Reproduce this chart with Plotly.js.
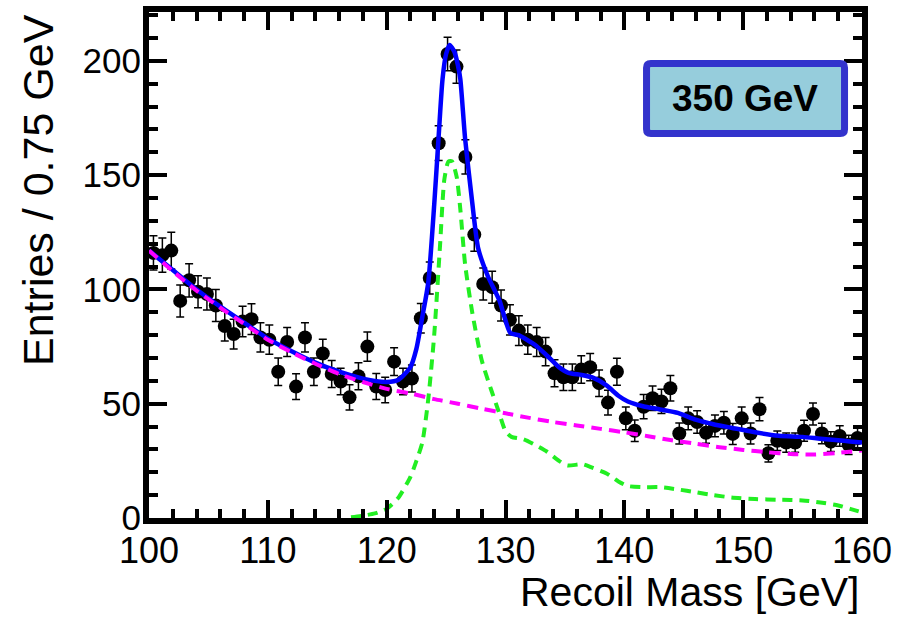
<!DOCTYPE html>
<html>
<head>
<meta charset="utf-8">
<script src="https://cdn.plot.ly/plotly-3.0.1.min.js"></script>
<style>html,body{margin:0;padding:0;background:#fff;}#chart{width:898px;height:617px;}</style>
</head>
<body>
<div id="chart"></div>
<script>
// Data points: bin centres (0.75 GeV bins), entries and errors
const binCenters = [100.375,101.125,101.875,102.625,103.375,104.125,104.875,105.625,106.375,107.125,
  107.875,108.625,109.375,110.125,110.875,111.625,112.375,113.125,113.875,114.625,
  115.375,116.125,116.875,117.625,118.375,119.125,119.875,120.625,121.375,122.125,
  122.875,123.625,124.375,125.125,125.875,126.625,127.375,128.125,128.875,129.625,
  130.375,131.125,131.875,132.625,133.375,134.125,134.875,135.625,136.375,137.125,
  137.875,138.625,139.375,140.125,140.875,141.625,142.375,143.125,143.875,144.625,
  145.375,146.125,146.875,147.625,148.375,149.125,149.875,150.625,151.375,152.125,
  152.875,153.625,154.375,155.125,155.875,156.625,157.375,158.125,158.875,159.625];
const entries = [116,115,117,95,104,99,98,93,84,80.5,
  86,87,79,78,64,77,57.5,79,64,72,
  63,59.7,52.8,62,75,57.5,56,68.4,59.7,61,
  87.4,105,164,203,197.5,158,124,102.4,101,93,
  86.7,82,78,77,72.8,63.3,61.6,61.6,65,66,
  59,50.5,64,43.6,38.2,48.7,52.4,51,56.8,37,
  43.6,42,37.3,40.3,41.7,36.8,43.6,37,47.6,28.3,
  33.8,33,33,38.2,45.5,37,33.4,35.9,32,35];
const errors = [7.5,7.5,8,7,7.3,7,7,7,6.6,6.5,
  6.7,6.7,6.4,6.4,6,6.3,5.6,6.4,6,6.2,
  5.9,5.8,5.5,5.9,6.4,5.7,5.6,6.1,5.8,5.9,
  6.5,7,7.6,7.3,7.3,7.5,7.3,7,7,6.8,
  6.6,6.5,6.4,6.3,6.2,5.9,5.8,5.8,6,6,
  5.8,5.4,5.9,5,4.7,5.3,5.4,5.3,5.6,4.6,
  5,4.9,4.6,4.8,4.9,4.6,5,4.6,5.1,3.8,
  4.3,4.2,4.2,4.6,4.8,4.5,4.3,4.5,4.2,4.4];

// Total fit (blue)
const totalX = [100,102,104,106,108,110,112,114,116,118,119,120,121,122,122.5,123,123.5,124,124.35,124.7,
  125,125.3,125.7,126,126.2,126.6,127.2,127.7,128.5,129.5,130.4,131.1,132.5,133.5,134.5,135.3,136.4,137.3,
  138.5,139.5,140.3,141.5,143,144.5,146,147.5,149,151,153,155,156.5,158,159,160];
const totalY = [117,108.5,100,92.5,85.5,78.5,73,68,64,61,60,59.5,60.5,66,74,88,103,137,165,192,
  203,207,204,198,192,166,138,118,106,95,81,80,75.7,71,66,63.5,62.6,61.5,
  58,53.5,51,49,47.5,46,43,41,39.5,37.5,36,35.5,34.7,34,33.5,33];

// Signal (green dashed)
const signalX = [117,118,119,120,121,122,122.5,123,123.5,124,124.5,124.85,125.2,125.5,125.9,126.2,126.6,127.2,
  128,128.8,129.4,130,130.5,131.5,132.5,133.5,134.5,135.2,136.5,137.3,138.5,139.5,140.3,141.5,143,144.5,
  146,147.5,149,151,153,155,156.5,158,159,160];
const signalY = [0.3,1,2,4,9,18,25,33,52,80,120,148,156,156,149,135,111,90,
  69,56,47,38,35.5,34.5,32,29,25,23,23.5,22,19.5,16,14,13.5,13.5,12.5,
  11.3,10,9,8.3,8,7.7,6.8,5.5,4,2.5];

// Background (magenta dashed)
const bkgX = [100,102,104,106,108,110,112,114,116,118,120,122,124,126,128,130,132,134,136,138,140,142,144,146,148,150,152,154,156,158,160];
const bkgY = [117,108,99.5,92,85,78,72.5,67.5,63,59.5,56.5,54.5,52,50,47.8,45.8,43.8,42,40.5,39,37.5,35.8,34,32.5,31,29.8,28.8,28,27.8,28.5,29.5];

const xTickVals = [100,110,120,130,140,150,160];
const yTickVals = [0,50,100,150,200];
const energyLabel = "350 GeV";
const xTitle = "Recoil Mass [GeV]";
const yTitle = "Entries / 0.75 GeV";

const FONT = "Liberation Sans, Arial, Helvetica, sans-serif";

const traces = [
  {x: binCenters, y: entries, type: 'scatter', mode: 'markers',
   marker: {color: 'black', size: 14},
   error_y: {type: 'data', array: errors, visible: true, color: 'black', thickness: 1.5, width: 4},
   hoverinfo: 'skip'},
  {x: signalX, y: signalY, type: 'scatter', mode: 'lines',
   line: {color: '#22ee22', width: 4, dash: '10px,7px', shape: 'spline', smoothing: 0.6}},
  {x: totalX, y: totalY, type: 'scatter', mode: 'lines',
   line: {color: '#0000ff', width: 4.5, shape: 'spline', smoothing: 0.6}},
  {x: bkgX, y: bkgY, type: 'scatter', mode: 'lines',
   line: {color: '#ff00ff', width: 4, dash: '11px,7px', shape: 'spline', smoothing: 0.6}}
];

const axisCommon = {
  showgrid: false, zeroline: false, showline: true, linecolor: 'black', linewidth: 6,
  mirror: 'allticks', ticks: 'inside', ticklen: 18, tickwidth: 4, tickcolor: 'black'
};

// rounded box in paper coordinates
const bx0 = 0.6978, bx1 = 0.9755, by0 = 0.7599, by1 = 0.8982, rx = 0.006, ry = 0.0085;
const boxPath = `M ${bx0+rx},${by0} L ${bx1-rx},${by0} Q ${bx1},${by0} ${bx1},${by0+ry} L ${bx1},${by1-ry} Q ${bx1},${by1} ${bx1-rx},${by1} L ${bx0+rx},${by1} Q ${bx0},${by1} ${bx0},${by1-ry} L ${bx0},${by0+ry} Q ${bx0},${by0} ${bx0+rx},${by0} Z`;

const layout = {
  width: 898, height: 617,
  margin: {l: 149, r: 36, t: 12, b: 99},
  paper_bgcolor: 'white', plot_bgcolor: 'white',
  showlegend: false,
  xaxis: Object.assign({}, axisCommon, {
    range: [100, 160], tickvals: xTickVals, ticktext: xTickVals.map(String),
    tickfont: {family: FONT, size: 36, color: 'black'},
    minor: {dtick: 2, ticklen: 9, tickwidth: 4, tickcolor: 'black', ticks: 'inside', showgrid: false},
    ticklabelstandoff: -4
  }),
  yaxis: Object.assign({}, axisCommon, {
    range: [0, 221.4], tickvals: yTickVals, ticktext: yTickVals.map(String),
    tickfont: {family: FONT, size: 35, color: 'black'},
    minor: {dtick: 10, ticklen: 9, tickwidth: 4, tickcolor: 'black', ticks: 'inside', showgrid: false},
    ticklabelstandoff: -5
  }),
  shapes: [
    {type: 'path', xref: 'paper', yref: 'paper', path: boxPath,
     line: {color: '#3333cc', width: 7}, fillcolor: '#96cddc', layer: 'above'}
  ],
  annotations: [
    {text: '<b>' + energyLabel + '</b>', xref: 'paper', yref: 'paper', x: 0.8366, y: 0.829,
     xanchor: 'center', yanchor: 'middle', showarrow: false,
     font: {family: FONT, size: 37, color: 'black'}},
    {text: xTitle, xref: 'paper', yref: 'paper', x: 1.0, y: -0.1462,
     xanchor: 'right', yanchor: 'middle', showarrow: false,
     font: {family: FONT, size: 41, color: 'black'}},
    {text: yTitle, xref: 'paper', yref: 'paper', x: -0.1557, y: 1.0,
     xanchor: 'center', yanchor: 'top', textangle: -90, showarrow: false,
     font: {family: FONT, size: 43, color: 'black'}}
  ]
};

Plotly.newPlot('chart', traces, layout, {displayModeBar: false, staticPlot: true});
</script>
</body>
</html>
